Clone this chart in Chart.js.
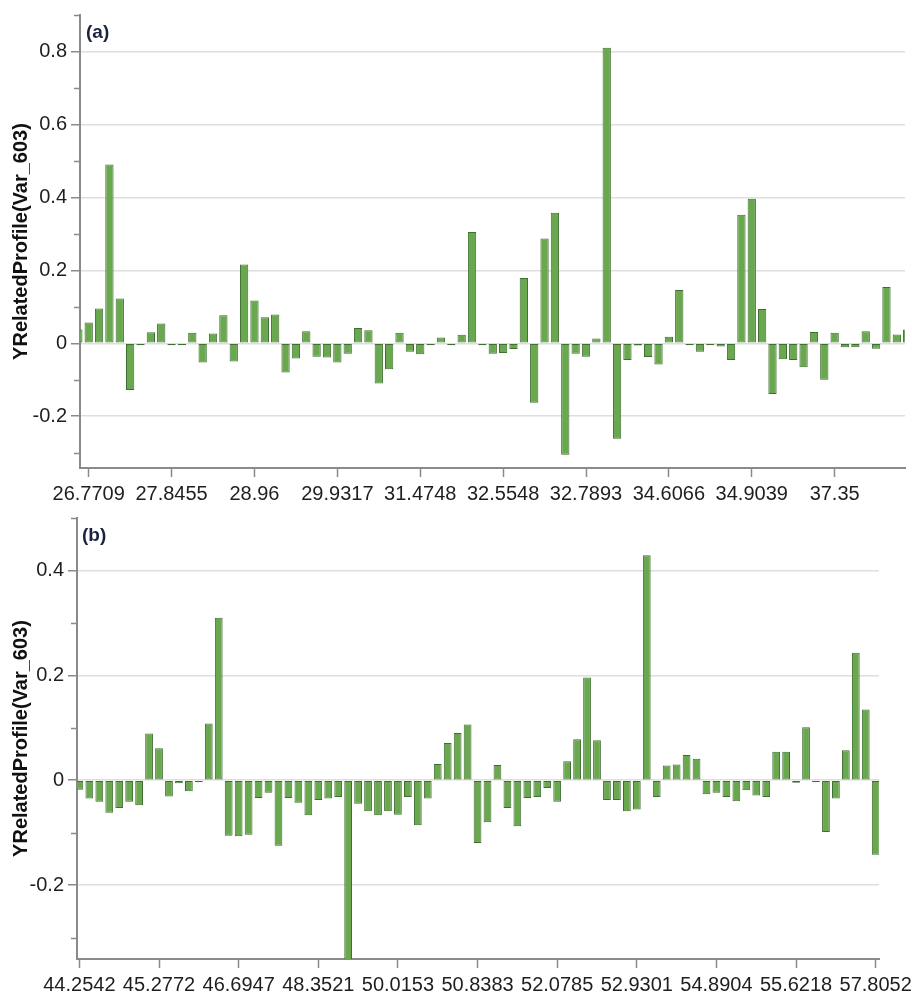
<!DOCTYPE html>
<html>
<head>
<meta charset="utf-8">
<script src="https://cdn.jsdelivr.net/npm/chart.js@4.4.1/dist/chart.umd.min.js"></script>
<style>
  body { margin: 0; background: #fff; }
  #wrap { position: relative; width: 912px; height: 994px; overflow: hidden; }
  canvas { position: absolute; left: 0; }
  #chartA { top: 0; }
  #chartB { top: 510px; }
  .panel-tag {
    position: absolute;
    font: bold 19px "Liberation Sans", Arial, sans-serif;
    color: #1b2340;
    line-height: 1;
  }
</style>
</head>
<body>
<div id="wrap">
  <canvas id="chartA" width="912" height="510"></canvas>
  <canvas id="chartB" width="912" height="484"></canvas>
  <div class="panel-tag" style="left:86px; top:22px;">(a)</div>
  <div class="panel-tag" style="left:82px; top:525px;">(b)</div>
</div>
<script>
// Werte
const valuesA = [
  0.038, 0.057, 0.095, 0.49, 0.123, -0.128, -0.003, 0.03, 0.054, -0.003,
  -0.003, 0.029, -0.053, 0.027, 0.077, -0.05, 0.216, 0.117, 0.071, 0.079,
  -0.08, -0.042, 0.033, -0.037, -0.039, -0.053, -0.029, 0.042, 0.036, -0.11,
  -0.071, 0.029, -0.023, -0.03, -0.003, 0.016, -0.004, 0.023, 0.305, -0.003,
  -0.029, -0.027, -0.016, 0.179, -0.163, 0.287, 0.358, -0.306, -0.029, -0.037,
  0.013, 0.81, -0.262, -0.046, -0.006, -0.038, -0.058, 0.018, 0.146, -0.004,
  -0.023, -0.003, -0.009, -0.046, 0.352, 0.396, 0.094, -0.139, -0.044, -0.046,
  -0.066, 0.031, -0.1, 0.029, -0.011, -0.011, 0.033, -0.015, 0.154, 0.024,
  0.038
];
const valuesB = [
  -0.018, -0.035, -0.041, -0.062, -0.053, -0.041, -0.048, 0.089, 0.061, -0.031,
  -0.006, -0.021, -0.004, 0.108, 0.31, -0.106, -0.107, -0.104, -0.034, -0.024,
  -0.125, -0.034, -0.043, -0.067, -0.038, -0.035, -0.032, -0.38, -0.045, -0.059,
  -0.067, -0.059, -0.066, -0.032, -0.086, -0.035, 0.031, 0.071, 0.09, 0.106,
  -0.12, -0.08, 0.029, -0.053, -0.088, -0.034, -0.032, -0.015, -0.041, 0.036,
  0.078, 0.196, 0.076, -0.038, -0.038, -0.059, -0.056, 0.429, -0.032, 0.028,
  0.03, 0.048, 0.041, -0.027, -0.024, -0.032, -0.04, -0.019, -0.029, -0.032,
  0.054, 0.054, -0.005, 0.101, -0.002, -0.099, -0.035, 0.057, 0.243, 0.135,
  -0.142
];

// Beschriftete Kategorien (jede 8. Kategorie)
const tickPosA = [1, 9, 17, 25, 33, 41, 49, 57, 65, 73];
const tickLabelsA = ['26.7709', '27.8455', '28.96', '29.9317', '31.4748', '32.5548',
  '32.7893', '34.6066', '34.9039', '37.35'];
const tickPosB = [0, 8, 16, 24, 32, 40, 48, 56, 64, 72, 80];
const tickLabelsB = ['44.2542', '45.2772', '46.6947', '48.3521', '50.0153', '50.8383',
  '52.0785', '52.9301', '54.8904', '55.6218', '57.8052'];

const yTitle = 'YRelatedProfile(Var_603)';
const axisGray = '#8a8a8a';
const fontFam = '"Liberation Sans", Arial, sans-serif';

function isMajor(v) {
  return Math.abs(Math.round(v * 10)) % 2 === 0;
}

// kurze Nebenstriche an der y-Achse
const minorTicks = {
  id: 'minorTicks',
  afterDraw(chart) {
    const s = chart.scales.y;
    const ctx = chart.ctx;
    const left = chart.chartArea.left;
    ctx.save();
    ctx.strokeStyle = axisGray;
    ctx.lineWidth = 1.5;
    s.ticks.forEach(t => {
      if (isMajor(t.value)) return;
      const y = Math.round(s.getPixelForValue(t.value)) + 0.5;
      ctx.beginPath();
      ctx.moveTo(left - 6, y);
      ctx.lineTo(left, y);
      ctx.stroke();
    });
    ctx.restore();
  }
};

function makeChart(id, values, tickPos, tickLabels, o) {
  const idx = values.map((_, i) => i);
  return new Chart(document.getElementById(id), {
    type: 'bar',
    data: {
      labels: idx,
      datasets: [{
        data: values,
        backgroundColor: '#6aa84f',
        borderColor: '#3f6e31',
        borderWidth: 1,
        borderSkipped: false,
        minBarLength: 2,
        barPercentage: o.barPct,
        categoryPercentage: 1,
        clip: 0
      }]
    },
    options: {
      responsive: false,
      animation: false,
      layout: { padding: { top: o.top, right: o.right, left: 0, bottom: 0 } },
      plugins: { legend: { display: false }, tooltip: { enabled: false } },
      scales: {
        x: {
          type: 'linear',
          min: o.xmin,
          max: o.xmax,
          offset: false,
          grid: { display: true, drawOnChartArea: false, offset: false, tickLength: 9, tickColor: axisGray, tickWidth: 1.5 },
          border: { color: axisGray, width: 2 },
          afterBuildTicks: s => { s.ticks = tickPos.map(v => ({ value: v })); },
          afterFit: s => { s.height = o.xh; s.paddingLeft = 0; s.paddingRight = 0; },
          ticks: {
            autoSkip: false,
            maxRotation: 0,
            padding: 5,
            color: '#1e1e1e',
            font: { family: fontFam, size: 20 },
            callback: v => tickLabels[tickPos.indexOf(v)]
          }
        },
        y: {
          min: o.ymin,
          max: o.ymax,
          grid: {
            color: c => (c.tick && isMajor(c.tick.value)) ? '#dedede' : 'transparent',
            lineWidth: 1.5,
            tickLength: 9,
            tickColor: c => (c.tick && isMajor(c.tick.value)) ? axisGray : 'transparent',
            tickWidth: 1.5
          },
          border: { color: axisGray, width: 2 },
          afterFit: s => { s.width = o.yw; s.paddingTop = 0; s.paddingBottom = 0; },
          title: {
            display: true,
            text: yTitle,
            color: '#111',
            font: { family: fontFam, size: 20, weight: 'bold' },
            padding: { top: 9, bottom: 0 }
          },
          ticks: {
            stepSize: 0.1,
            includeBounds: false,
            padding: 4,
            color: '#1e1e1e',
            font: { family: fontFam, size: 20 },
            callback: v => {
              if (!isMajor(v)) return '';
              const r = Math.round(v * 10) / 10;
              return r === 0 ? '0' : r.toFixed(1);
            }
          }
        }
      }
    },
    plugins: [minorTicks]
  });
}

makeChart('chartA', valuesA, tickPosA, tickLabelsA, {
  top: 15, right: 7, yw: 80, xh: 42, xmin: 0.16, xmax: 79.79, ymin: -0.342, ymax: 0.9, barPct: 0.8
});
makeChart('chartB', valuesB, tickPosB, tickLabelsB, {
  top: 8, right: 33, yw: 77, xh: 35, xmin: -0.24, xmax: 80.33, ymin: -0.341, ymax: 0.5, barPct: 0.78
});
</script>
</body>
</html>
